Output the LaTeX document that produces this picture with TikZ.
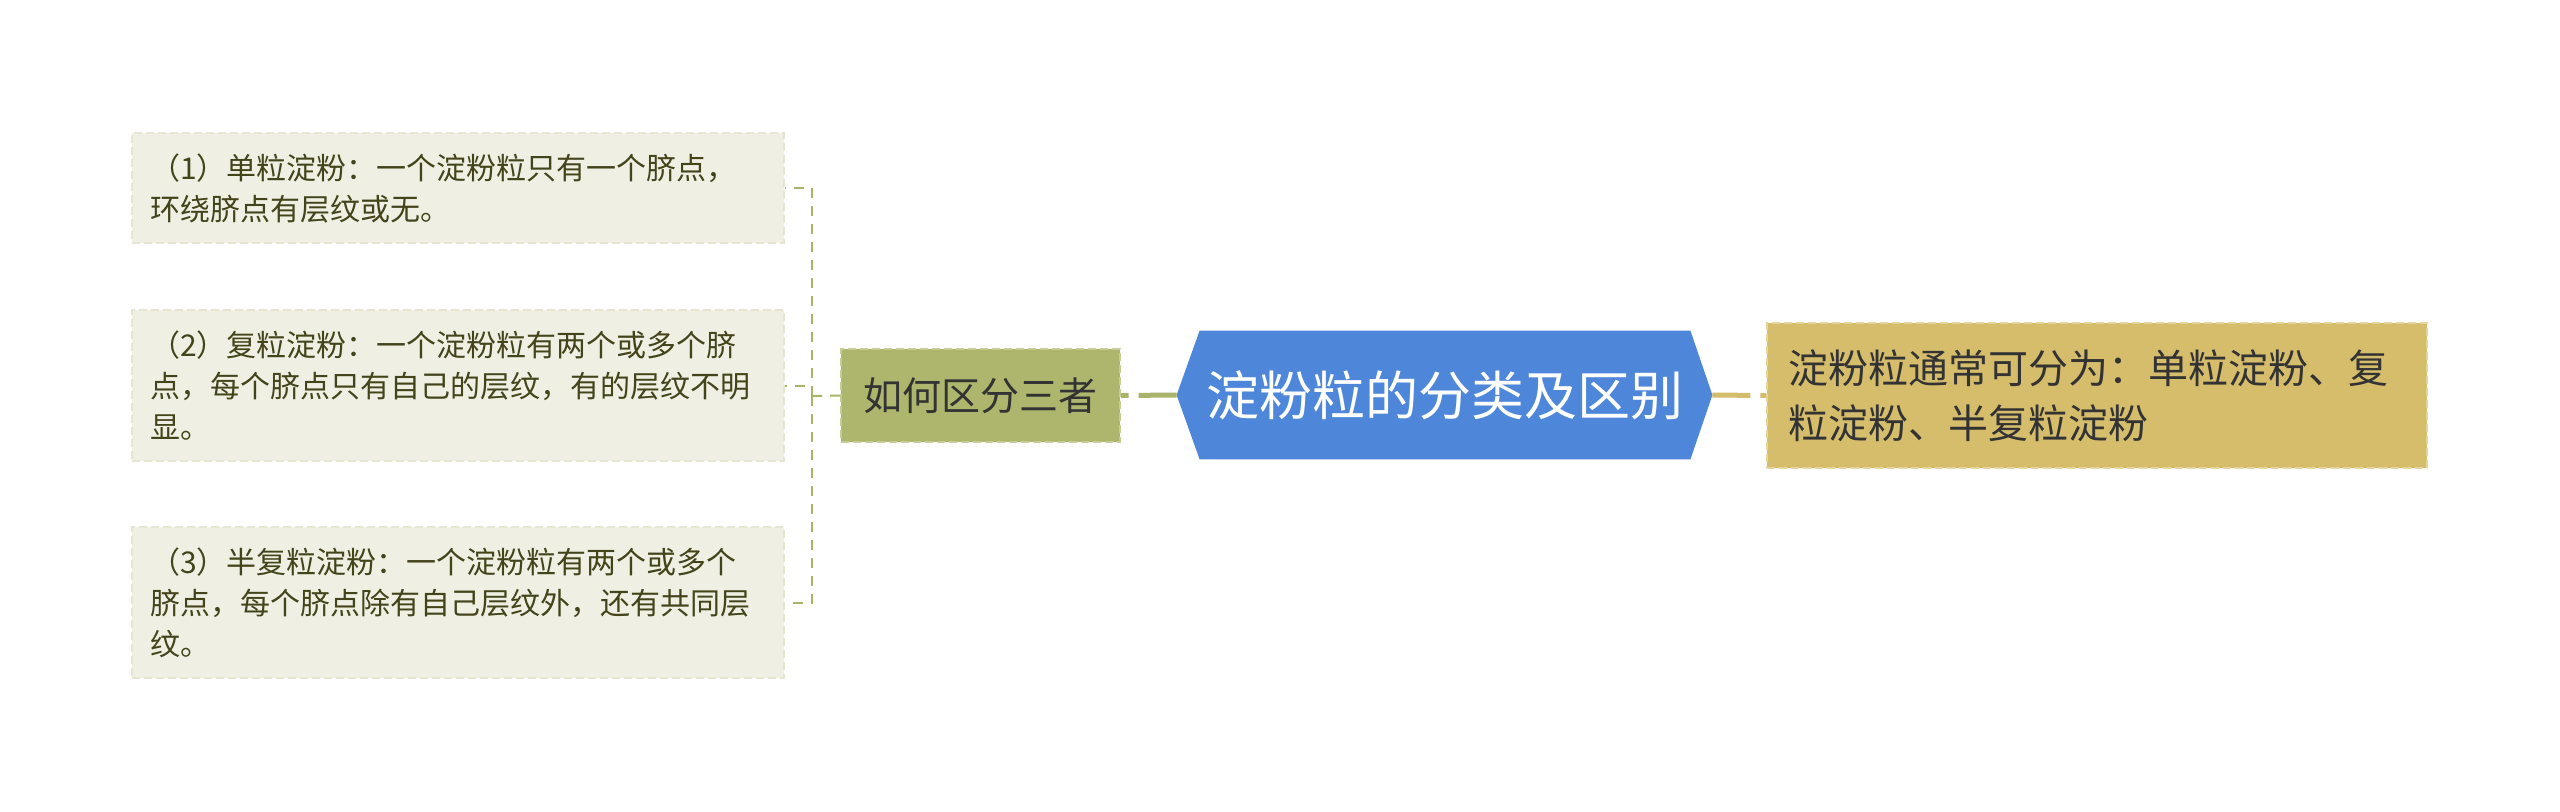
\documentclass[tikz,border=0pt]{standalone}
\usepackage{fontspec}
\setmainfont{Noto Sans CJK SC}
\usetikzlibrary{backgrounds}
\definecolor{leftfill}{HTML}{EFF0E3}
\definecolor{leftborder}{HTML}{E4E6D1}
\definecolor{lefttext}{HTML}{43441A}
\definecolor{qfill}{HTML}{ADB66C}
\definecolor{qborder}{HTML}{C6CC96}
\definecolor{hexfill}{HTML}{4E87DA}
\definecolor{rfill}{HTML}{D5BD6C}
\definecolor{rborder}{HTML}{E4D49E}
\definecolor{olivecon}{HTML}{A9B46A}
\definecolor{goldcon}{HTML}{D3BC6A}
\definecolor{darktext}{HTML}{333333}
\tikzset{
  x=0.5pt, y=-0.5pt,
  leftbox/.style={rectangle, fill=leftfill, draw=leftborder, line width=1pt,
    dash pattern=on 4pt off 2pt, text=lefttext,
    font=\fontsize{15pt}{20.5pt}\selectfont, text width=308pt, align=left,
    inner xsep=9pt, inner ysep=2pt},
  qbox/.style={rectangle, fill=qfill, draw=qborder, line width=1pt,
    dash pattern=on 4pt off 2pt, text=darktext,
    font=\fontsize{19.5pt}{24pt}\selectfont, minimum width=139.5pt,
    minimum height=46.5pt, inner sep=0pt},
  hexnode/.style={rectangle, text=white, font=\fontsize{26.5pt}{32pt}\selectfont,
    minimum width=267.5pt, minimum height=64pt, inner sep=0pt},
  rbox/.style={rectangle, fill=rfill, draw=rborder, line width=1pt,
    dash pattern=on 4pt off 2pt, text=darktext,
    font=\fontsize{20pt}{27.5pt}\selectfont, text width=309pt, align=left,
    inner xsep=10.5pt, inner ysep=2pt, minimum height=72.5pt},
  maincon/.style={line width=2.5pt, dash pattern=on 19pt off 5pt},
  bracketcon/.style={draw=olivecon, line width=1pt, dash pattern=on 5pt off 4pt},
}
\begin{document}
\begin{tikzpicture}
\useasboundingbox (0,0) rectangle (2560,811);

\node[leftbox, minimum height=55pt] (b1) at (458,188)
  {（1）单粒淀粉：一个淀粉粒只有一个脐点，\\环绕脐点有层纹或无。};
\node[leftbox, minimum height=75.5pt] (b2) at (458,385.5)
  {（2）复粒淀粉：一个淀粉粒有两个或多个脐\\点，每个脐点只有自己的层纹，有的层纹不明\\显。};
\node[leftbox, minimum height=75.5pt] (b3) at (458,602.5)
  {（3）半复粒淀粉：一个淀粉粒有两个或多个\\脐点，每个脐点除有自己层纹外，还有共同层\\纹。};

\node[qbox] (q) at (980.5,395.5) {如何区分三者};

\node[hexnode] (h) at (1444.5,395) {淀粉粒的分类及区别};

\node[rbox] (r) at (2097,395.5)
  {淀粉粒通常可分为：单粒淀粉、复\\粒淀粉、半复粒淀粉};

\draw[maincon, draw=olivecon] (h.west) -- (q.east);
\draw[maincon, draw=goldcon] (h.east) -- (r.west);

\coordinate (j) at (812,396);
\draw[bracketcon] (q.west) -- (j);
\draw[bracketcon] (j) |- (b1.east);
\draw[bracketcon] (j) |- (b2.east);
\draw[bracketcon] (j) |- (b3.east);

\begin{scope}[on background layer]
  \fill[white] (0,0) rectangle (2560,811);
  \fill[hexfill] (h.west) -- ([xshift=11.5pt]h.north west)
    -- ([xshift=-11pt]h.north east) -- (h.east)
    -- ([xshift=-11pt]h.south east) -- ([xshift=11.5pt]h.south west) -- cycle;
\end{scope}
\end{tikzpicture}
\end{document}
